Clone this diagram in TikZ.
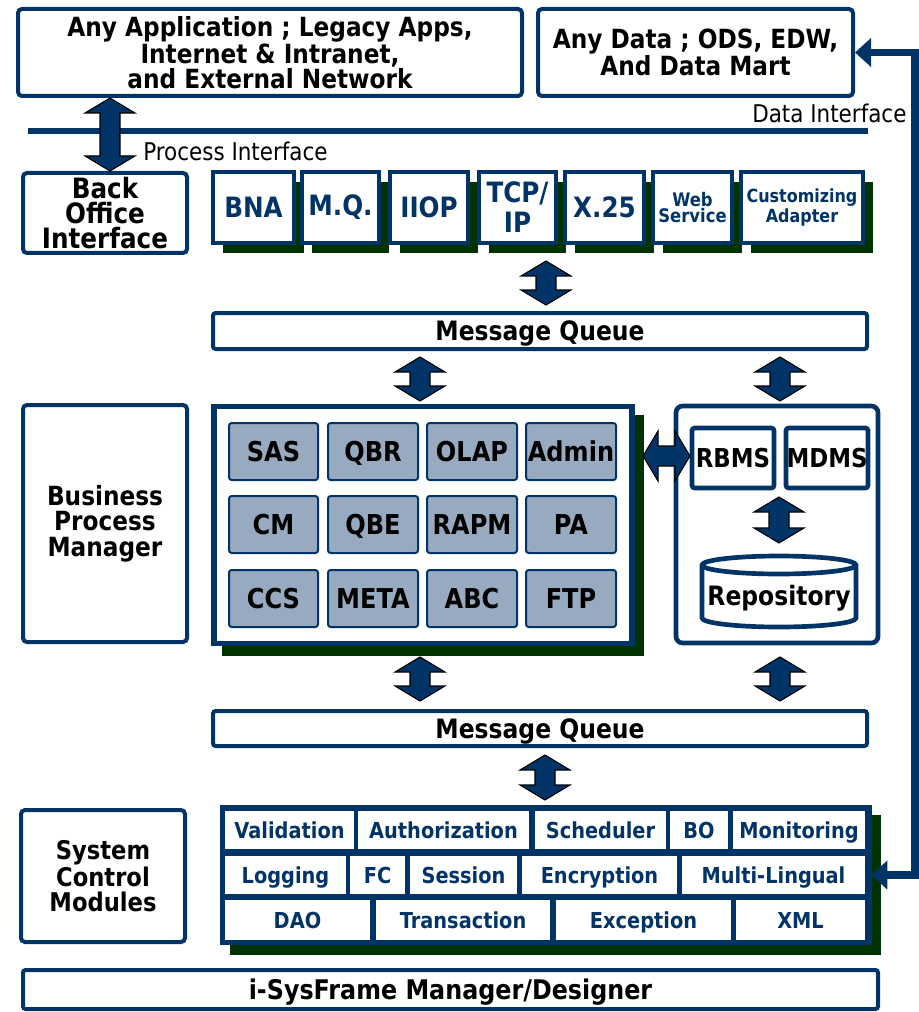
\documentclass[tikz,border=0pt]{standalone}
\usepackage{fontspec}
\setmainfont{DejaVu Sans}[FakeStretch=0.88]
\usetikzlibrary{arrows.meta,calc}
\definecolor{navy}{HTML}{003366}
\definecolor{shadowgreen}{HTML}{003300}
\definecolor{cellgrey}{HTML}{98AABF}
\newcommand\fsz[2]{\fontsize{#1}{#2}\selectfont}
% box from (x1,y1) to (x2,y2) in px units
\newcommand\bx[7]{\node[#1,minimum width={(#4-#2)*0.75pt},minimum height={(#5-#3)*0.75pt}] (#6) at ({(#2+#4)/2},{(#3+#5)/2}) {#7};}
\newcommand\shd[4]{\fill[shadowgreen] ({#1+10},{#2+10}) rectangle ({#3+10},{#4+10});}
% fat vertical double arrow: cx, ytop, ybottom
\newcommand\fatv[3]{\draw[fatarrow] (#1,#2) -- ({#1+25},{#2+15}) -- ({#1+10},{#2+15}) -- ({#1+10},{#3-15}) -- ({#1+25},{#3-15}) -- (#1,#3) -- ({#1-25},{#3-15}) -- ({#1-10},{#3-15}) -- ({#1-10},{#2+15}) -- ({#1-25},{#2+15}) -- cycle;}
% fat horizontal double arrow: cy, xleft, xright
\newcommand\fath[3]{\draw[fatarrow] (#2,#1) -- ({#2+15},{#1-25}) -- ({#2+15},{#1-10}) -- ({#3-15},{#1-10}) -- ({#3-15},{#1-25}) -- (#3,#1) -- ({#3-15},{#1+25}) -- ({#3-15},{#1+10}) -- ({#2+15},{#1+10}) -- ({#2+15},{#1+25}) -- cycle;}
\tikzset{
  bigbox/.style={draw=navy,line width=3pt,fill=white,rounded corners=3pt,align=center,text=black,inner sep=0pt,font=\bfseries\fsz{20}{19}},
  protobox/.style={draw=navy,line width=3pt,fill=white,align=center,text=navy,inner sep=0pt,font=\bfseries\fsz{21}{22.5}},
  cellbox/.style={draw=navy,line width=1.5pt,fill=cellgrey,rounded corners=2pt,align=center,text=black,inner sep=0pt,font=\bfseries\fsz{20.5}{22},text height=14.9pt,text depth=0pt},
  modcell/.style={fill=white,draw=none,align=center,text=navy,inner sep=0pt,font=\bfseries\fsz{16.5}{18},text height=12pt,text depth=0pt},
  fatarrow/.style={fill=navy,draw=black,line width=0.8pt,line join=miter},
  plainlabel/.style={text=black,inner sep=0pt,font=\fsz{18.3}{20}},
  connector/.style={draw=navy,line width=5.5pt,line join=miter,{Triangle[length=12pt,width=21pt]}-{Triangle[length=12pt,width=21pt]}}
}
\begin{document}
\begin{tikzpicture}[x=0.75pt,y=-0.75pt]
\useasboundingbox (0,0) rectangle (919,1012);

% ---- top row ----
\bx{bigbox,font=\bfseries\fsz{19.8}{18.8}}{18}{9}{522}{96}{app}{Any Application ; Legacy Apps,\\Internet \& Intranet,\\and External Network}
\bx{bigbox,font=\bfseries\fsz{19.8}{18}}{538}{9}{853}{96}{data}{Any Data ; ODS, EDW,\\And Data Mart}

% interface line
\fill[navy] (28,128) rectangle (868,134);
\node[plainlabel,anchor=base west] (dataif) at (752,123) {Data Interface};
\node[plainlabel,anchor=base west] (procif) at (143,161) {Process Interface};

% ---- back office & protocols ----
\bx{bigbox,font=\bfseries\fsz{21}{19}}{23}{173}{187}{253}{backoffice}{Back\\Office\\Interface}

\shd{213}{172}{294}{243}
\shd{302}{172}{379}{243}
\shd{390}{172}{468}{243}
\shd{479}{172}{556}{243}
\shd{565}{172}{644}{243}
\shd{653}{172}{732}{243}
\shd{741}{172}{863}{243}
\bx{protobox}{213}{172}{294}{243}{bna}{BNA}
\bx{protobox}{302}{172}{379}{243}{mq}{M.Q.}
\bx{protobox}{390}{172}{468}{243}{iiop}{IIOP}
\bx{protobox}{479}{172}{556}{243}{tcp}{TCP/\\IP}
\bx{protobox}{565}{172}{644}{243}{x25}{X.25}
\bx{protobox,font=\bfseries\fsz{14}{12.5}}{653}{172}{732}{243}{web}{Web\\Service}
\bx{protobox,font=\bfseries\fsz{13.6}{12.5}}{741}{172}{863}{243}{cust}{Customizing\\Adapter}

\fatv{110}{98}{171}
\fatv{546}{261}{305}

% ---- message queue 1 ----
\bx{bigbox,rounded corners=2pt,font=\bfseries\fsz{20}{20},text height=14.6pt,text depth=0pt}{213}{313}{867}{349}{mq1}{Message Queue}
\fatv{420}{357}{401}
\fatv{780}{357}{401}

% ---- business process manager ----
\bx{bigbox,font=\bfseries\fsz{19.8}{19}}{23}{405}{187}{642}{bpm}{Business\\Process\\Manager}

\fill[shadowgreen] (222,415) rectangle (644,656);
\node[draw=navy,line width=4pt,fill=white,minimum width={418*0.75pt},minimum height={237*0.75pt},inner sep=0pt] (modframe) at (423,525) {};

\bx{cellbox}{229}{423}{318}{480}{sas}{SAS}
\bx{cellbox}{328}{423}{418}{480}{qbr}{QBR}
\bx{cellbox}{427}{423}{517}{480}{olap}{OLAP}
\bx{cellbox}{526}{423}{616}{480}{admin}{Admin}
\bx{cellbox}{229}{496}{318}{553}{cm}{CM}
\bx{cellbox}{328}{496}{418}{553}{qbe}{QBE}
\bx{cellbox}{427}{496}{517}{553}{rapm}{RAPM}
\bx{cellbox}{526}{496}{616}{553}{pa}{PA}
\bx{cellbox}{229}{570}{318}{627}{ccs}{CCS}
\bx{cellbox}{328}{570}{418}{627}{meta}{META}
\bx{cellbox}{427}{570}{517}{627}{abc}{ABC}
\bx{cellbox}{526}{570}{616}{627}{ftp}{FTP}

% right repository box
\bx{bigbox,line width=3.5pt,rounded corners=5pt}{676}{406}{878}{643}{repobox}{}
\bx{bigbox,line width=3.5pt,rounded corners=2pt,font=\bfseries\fsz{19.5}{20},text height=14.2pt,text depth=0pt}{692}{428}{774}{488}{rbms}{RBMS}
\bx{bigbox,line width=3.5pt,rounded corners=2pt,font=\bfseries\fsz{19.5}{20},text height=14.2pt,text depth=0pt}{786}{428}{868}{488}{mdms}{MDMS}

\fath{456}{643}{690}
\fatv{779}{497}{543}

% cylinder
\draw[navy,line width=3.5pt,fill=white] (702,565) -- (702,618) arc[start angle=180,end angle=0,x radius=77,y radius=9] -- (856,565) arc[start angle=0,end angle=-180,x radius=77,y radius=9] -- cycle;
\draw[navy,line width=3.5pt] (702,565) arc[start angle=180,end angle=0,x radius=77,y radius=9];
\node[text=black,font=\bfseries\fsz{20}{20},inner sep=0pt] (repo) at (779,598) {Repository};

\fatv{420}{657}{701}
\fatv{780}{657}{701}

% ---- message queue 2 ----
\bx{bigbox,rounded corners=2pt,font=\bfseries\fsz{20}{20},text height=14.6pt,text depth=0pt}{213}{711}{867}{746}{mq2}{Message Queue}
\fatv{545}{755}{800}

% ---- system control modules ----
\bx{bigbox,font=\bfseries\fsz{19.3}{18.8}}{21}{810}{185}{942}{scm}{System\\Control\\Modules}

\fill[shadowgreen] (230,815) rectangle (881,955);
\fill[navy] (220,805) rectangle (872,945);
\bx{modcell}{225}{811}{354}{849}{val}{Validation}
\bx{modcell}{358}{811}{529}{849}{auth}{Authorization}
\bx{modcell}{535}{811}{666}{849}{sched}{Scheduler}
\bx{modcell}{670}{811}{728}{849}{bo}{BO}
\bx{modcell}{733}{811}{865}{849}{mon}{Monitoring}
\bx{modcell}{225}{856}{346}{894}{log}{Logging}
\bx{modcell}{350}{856}{405}{894}{fc}{FC}
\bx{modcell}{410}{856}{517}{894}{sess}{Session}
\bx{modcell}{522}{856}{677}{894}{enc}{Encryption}
\bx{modcell}{682}{856}{865}{894}{ml}{Multi-Lingual}
\bx{modcell}{225}{900}{370}{940}{dao}{DAO}
\bx{modcell}{376}{900}{550}{940}{trans}{Transaction}
\bx{modcell}{556}{900}{731}{940}{exc}{Exception}
\bx{modcell}{736}{900}{865}{940}{xml}{XML}

% ---- bottom bar ----
\bx{bigbox,rounded corners=2pt,font=\bfseries\fsz{20.3}{20},text height=14.8pt,text depth=0pt}{23}{970}{878}{1009}{sysframe}{i-SysFrame Manager/Designer}

% ---- data connector ----
\coordinate (cturn) at (915,500);
\draw[connector] (data.east) -| (cturn) |- ($(ml.east)+(6,0)$);
\end{tikzpicture}
\end{document}
